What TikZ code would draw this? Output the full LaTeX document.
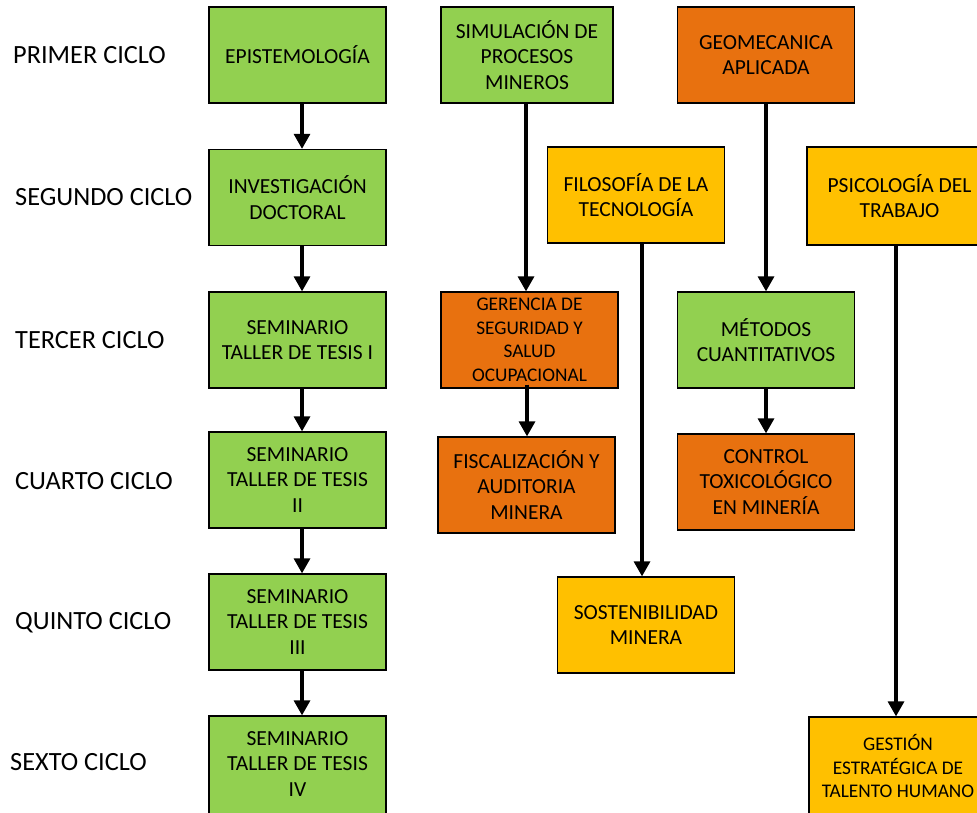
\documentclass[tikz,border=0pt]{standalone}
\usepackage{fontspec}
\setmainfont{Carlito}
\usetikzlibrary{arrows.meta}
\definecolor{cgreen}{HTML}{92D050}
\definecolor{corange}{HTML}{E8710F}
\definecolor{cyellow}{HTML}{FFC000}
\tikzset{
  boxfont/.style={font=\fontsize{21.5}{25.5}\selectfont},
  box/.style={draw=black, line width=1.3pt, inner sep=0pt, align=center,
    minimum width=177pt, minimum height=96pt, boxfont},
  gbox/.style={box, fill=cgreen},
  obox/.style={box, fill=corange},
  ybox/.style={box, fill=cyellow},
  small/.style={font=\fontsize{19.3}{23.5}\selectfont},
  txt/.style={inner sep=0pt, align=center, boxfont},
  cyc/.style={anchor=west, inner sep=0pt, text height=16.7pt, text depth=0pt,
    font=\fontsize{26.3}{30}\selectfont},
  arr/.style={-{Triangle[length=15pt,width=16pt]}, line width=3.2pt, black}
}
\begin{document}
\begin{tikzpicture}[x=1pt,y=-1pt]
\useasboundingbox (0,0) rectangle (977,812);
\clip (0,0) rectangle (977,812);
\fill[white] (0,0) rectangle (977,812);
% cycle labels
\node[cyc] (c1) at (13,55) {PRIMER CICLO};
\node[cyc] (c2) at (15,197) {SEGUNDO CICLO};
\node[cyc] (c3) at (15,340) {TERCER CICLO};
\node[cyc] (c4) at (15,481) {CUARTO CICLO};
\node[cyc] (c5) at (15,621) {QUINTO CICLO};
\node[cyc] (c6) at (10,762) {SEXTO CICLO};
% left column
\node[gbox] (epi) at (297.5,55) {EPISTEMOLOGÍA};
\node[gbox] (inv) at (297.5,197.5) {INVESTIGACIÓN\\DOCTORAL};
\node[gbox] (s1) at (297.5,340) {SEMINARIO\\TALLER DE TESIS I};
\node[gbox] (s2) at (297.5,480) {SEMINARIO\\TALLER DE TESIS\\II};
\node[gbox] (s3) at (297.5,622) {SEMINARIO\\TALLER DE TESIS\\III};
\node[gbox, minimum height=104pt] (s4) at (297.5,768) {};
\node[txt] (s4t) at (297.5,764) {SEMINARIO\\TALLER DE TESIS\\IV};
% other boxes
\node[gbox, minimum width=172pt] (sim) at (527,55) {SIMULACIÓN DE\\PROCESOS\\MINEROS};
\node[obox] (geo) at (766,55) {GEOMECANICA\\APLICADA};
\node[ybox] (fil) at (636,195) {FILOSOFÍA DE LA\\TECNOLOGÍA};
\node[ybox, minimum height=98pt, minimum width=185pt] (psi) at (899.5,196) {PSICOLOGÍA DEL\\TRABAJO};
\node[obox, small] (ger) at (529.5,340) {GERENCIA DE\\SEGURIDAD Y\\SALUD\\OCUPACIONAL};
\node[gbox] (met) at (766,340) {MÉTODOS\\CUANTITATIVOS};
\node[obox] (fis) at (526.5,485) {FISCALIZACIÓN Y\\AUDITORIA\\MINERA};
\node[obox] (con) at (766,482) {CONTROL\\TOXICOLÓGICO\\EN MINERÍA};
\node[ybox] (sos) at (646,625) {SOSTENIBILIDAD\\MINERA};
\node[ybox, minimum width=185pt, minimum height=106pt] (ges) at (901.5,770) {};
\node[txt, small] (gest) at (898,766) {GESTIÓN\\ESTRATÉGICA DE\\TALENTO HUMANO};
% arrows
\draw[arr] (epi.south -| 302,0) -- (inv.north -| 302,0);
\draw[arr] (inv.south -| 302,0) -- (s1.north -| 302,0);
\draw[arr] (s1.south -| 302,0) -- (s2.north -| 302,0);
\draw[arr] (s2.south -| 302,0) -- (s3.north -| 302,0);
\draw[arr] (s3.south -| 302,0) -- (s4.north -| 302,0);
\draw[arr] (sim.south -| 526,0) -- (ger.north -| 526,0);
\draw[arr] (ger.south -| 527,0) ++(0,-4) -- (fis.north -| 527,0);
\draw[arr] (geo.south -| 766,0) -- (met.north -| 766,0);
\draw[arr] (met.south -| 766,0) -- (con.north -| 766,0);
\draw[arr] (fil.south -| 642,0) -- (sos.north -| 642,0);
\draw[arr] (psi.south -| 896,0) -- (ges.north -| 896,0);
\end{tikzpicture}
\end{document}
